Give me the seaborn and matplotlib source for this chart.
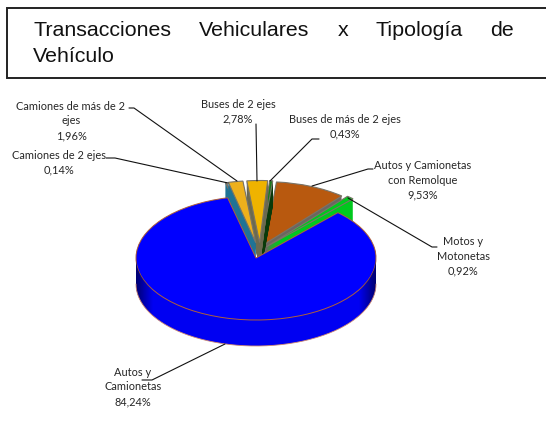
import numpy as np
import matplotlib
matplotlib.use("Agg")
import matplotlib.pyplot as plt
import matplotlib.patches as mpatches
from matplotlib.path import Path
import seaborn as sns

# --- Data ---
categories = ["Autos y\nCamionetas", "Motos y\nMotonetas", "Autos y Camionetas\ncon Remolque",
              "Buses de más de 2 ejes", "Buses de 2 ejes", "Camiones de más de 2\nejes",
              "Camiones de 2 ejes"]
shares = [84.24, 0.92, 9.53, 0.43, 2.78, 1.96, 0.14]
explode = [0.0, 0.22, 0.25, 0.25, 0.25, 0.25, 0.25]
nudge_x = [0.0, -0.06, -0.02, 0.025, 0.035, 0.04, 0.04]
nudge_y = [0.0, 0.015, 0.0, 0.0, 0.0, 0.0, 0.0]
radii = [1.0, 1.06, 1.0, 1.0, 1.0, 1.0, 1.0]
top_colors = ["#0000FF", "#00C81E", "#B8590F", "#1C7A1C", "#EFB300", "#EDB01C", "#1F7396"]
side_colors = ["#0000F2", "#00C81E", "#6B6660", "#0A3A0A", "#6B6A50", "#1F7396", "#1F7396"]
draw_order = [2, 3, 4, 6, 5, 1, 0]  # back to front

title_words = ["Transacciones", "Vehiculares", "x", "Tipología", "de"]
title_word_x = [33, 199, 338, 375, 490]

W, H = 546, 434
CX, CY, RX, RY, DEPTH = 256, 258, 120, 62, 26
M = 1.5

sns.set_theme(style="white")
plt.rcParams["font.family"] = ["Lato", "DejaVu Sans"]

fig = plt.figure(figsize=(W / 100, H / 100), dpi=100)
bg = fig.add_axes([0, 0, 1, 1])
bg.set_xlim(0, W)
bg.set_ylim(H, 0)
bg.axis("off")

# --- Title box ---
bg.plot([W, 7, 7, W], [8, 8, 78, 78], color="#222222", lw=1.4, solid_joinstyle="miter", zorder=1)
for word, x in zip(title_words, title_word_x):
    bg.text(x, 31, word, fontsize=15.4, family="Liberation Sans", color="#111111", va="center", ha="left")
bg.text(33, 57, "Vehículo", fontsize=15.4, family="Liberation Sans", color="#111111", va="center", ha="left")

# --- 3D looking pie: stacked pies inside a squashed axes ---
ax = fig.add_axes([(CX - M * RX) / W, 1 - (CY + M * RY + DEPTH * 2) / H, 2 * M * RX / W,
                   (2 * M * RY + DEPTH * 2) / H])
ax.patch.set_alpha(0)


def draw_layer(offset, colors, lift=0):
    wedges, _ = ax.pie(shares, explode=explode, colors=colors, startangle=103.7, radius=1.0,
                       center=(0, -offset), normalize=True)
    for i, w in enumerate(wedges):
        w.set_center((w.center[0] + nudge_x[i], w.center[1] + nudge_y[i]))
        w.set_radius(radii[i])
        w.set_zorder(10 + draw_order.index(i) * 100 + lift - offset * 10)
        w.set_linewidth(0)
    return wedges


for off in np.linspace(DEPTH / RY, 0, DEPTH * 2 + 1)[:-1]:
    draw_layer(off, side_colors)
top = draw_layer(0, top_colors, lift=20)
for i, w in enumerate(top):
    if i == 0:
        w.set_edgecolor("#B0603A")
        w.set_linewidth(0.7)
    else:
        w.set_edgecolor("#7A7468")
        w.set_linewidth(0.8)

# darker ends on the rim and lower edge line
d = DEPTH / RY
t = np.linspace(np.pi, 2 * np.pi, 200)
x_arc, y_arc = np.cos(t), np.sin(t)
verts = np.r_[np.c_[x_arc, y_arc], np.c_[x_arc[::-1], y_arc[::-1] - d], [[-1, 0]]]
band = Path(verts, closed=True)
grad = np.abs(np.linspace(-1, 1, 400)).reshape(1, -1)
shade = np.clip((grad - 0.86) / 0.14, 0, 1)
rgba = np.zeros((1, 400, 4))
rgba[..., 2] = 0.35
rgba[..., 3] = shade * 0.85
im = ax.imshow(rgba, extent=(-1, 1, -1 - d, 0), aspect="auto", zorder=900, interpolation="bilinear")
im.set_clip_path(mpatches.PathPatch(band, transform=ax.transData))
ax.plot(x_arc, y_arc - d, color="#D08A70", lw=0.6, zorder=901)
ax.set_aspect("auto")
ax.set_xlim(-M, M)
ax.set_ylim(-M - 2 * DEPTH / RY, M)

# --- Labels and leader lines ---
labels = [f"{c}\n{v:.2f}%".replace(".", ",") for c, v in zip(categories, shares)]
label_pos = [(133, 387), (463, 256), (423, 180), (345, 127), (238, 112), (71, 121), (59, 163)]
leaders = [
    [(142, 380), (152, 380), (225, 344)],
    [(348, 198), (432, 247), (437, 247)],
    [(373, 169), (368, 169), (312, 186)],
    [(319, 139), (312, 139), (270, 181)],
    [(256, 124), (257, 181)],
    [(129, 108), (134, 108), (237, 181)],
    [(106, 158), (115, 158), (228, 183)],
]
for lab, (lx, ly), pts in zip(labels, label_pos, leaders):
    bg.text(lx, ly, lab, fontsize=7.9, color="#262626", ha="center", va="center", linespacing=1.42, zorder=5)
    xs, ys = zip(*pts)
    bg.plot(xs, ys, color="#111111", lw=0.8, zorder=3)
# leader lines sit over the pie
bg.set_zorder(2)
ax.set_zorder(1)
bg.patch.set_alpha(0)

fig.savefig("out.png", dpi=100, facecolor="white")
plt.close(fig)
